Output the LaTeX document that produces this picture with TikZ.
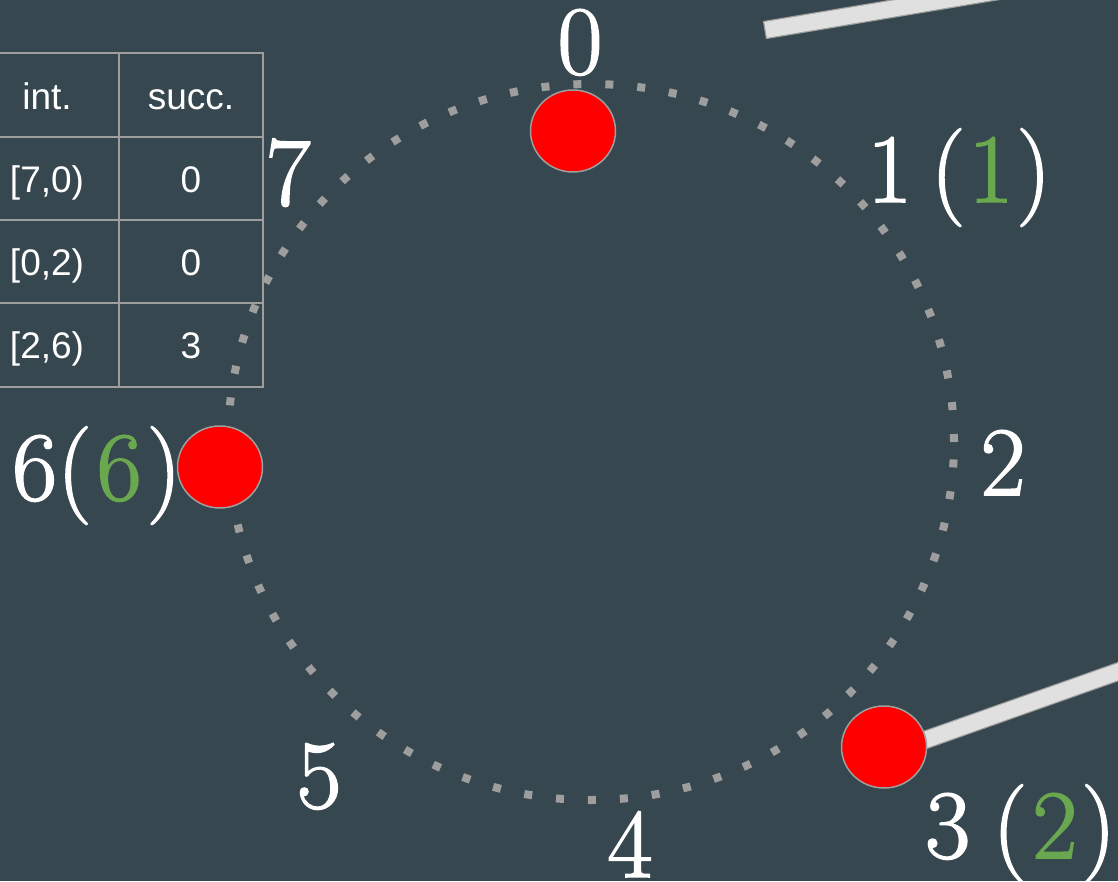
\documentclass[tikz,border=0pt]{standalone}
\usepackage{fontspec}
\setsansfont{Liberation Sans}
\newfontfamily\bigfont[FakeBold=1.6]{Latin Modern Roman}
\usetikzlibrary{shapes.geometric}
\definecolor{bg}{HTML}{37474F}
\definecolor{grn}{HTML}{6AA84F}
\definecolor{lgray}{HTML}{9E9E9E}
\definecolor{barfill}{HTML}{E0E0E0}
\begin{document}
\begin{tikzpicture}[x=1pt,y=-1pt,
  bigl/.style={text=white,inner sep=0pt,font=\bigfont\fontsize{98}{98}\selectfont},
  cell/.style={text=white,inner sep=0pt,font=\sffamily\fontsize{37}{37}\selectfont,anchor=base},
  redn/.style={ellipse,fill=red,draw=lgray,line width=1.5pt,minimum width=85pt,minimum height=82pt,inner sep=0pt},
  barline/.style={draw=lgray,line width=1.2pt,double=barfill,double distance=16pt},
  barend/.style={draw=lgray,line width=1.2pt},
  gridline/.style={draw=lgray,line width=2pt},
  ring/.style={draw=lgray,line width=8pt,dash pattern=on 8pt off 24pt}]
\fill[bg] (0,0) rectangle (1118,881);
\useasboundingbox (0,0) rectangle (1118,881);
\clip (0,0) rectangle (1118,881);

% table
\draw[gridline] (-30,53) -- (263,53) -- (263,387) -- (-30,387);
\draw[gridline] (-30,137) -- (263,137);
\draw[gridline] (-30,220) -- (263,220);
\draw[gridline] (-30,303) -- (263,303);
\draw[gridline] (119,53) -- (119,387);
\node[cell] (h1) at (47,109) {int.};
\node[cell] (h2) at (191,109) {succ.};
\node[cell] (a1) at (47,192) {[7,0)};
\node[cell] (b1) at (191,192) {0};
\node[cell] (a2) at (47,275) {[0,2)};
\node[cell] (b2) at (191,275) {0};
\node[cell] (a3) at (47,358) {[2,6)};
\node[cell] (b3) at (191,358) {3};

% ring
\draw[ring] (591,442) ellipse [x radius=363pt, y radius=358pt];

% bars
\coordinate (t0) at (765,30);
\coordinate (t1) at (1160,-36);
\draw[barline] (t0) -- (t1);
\coordinate (t0a) at (763.5,21.1);
\coordinate (t0b) at (766.5,38.9);
\draw[barend] (t0a) -- (t0b);
\coordinate (c3) at (895,750.6);
\coordinate (f3) at (1160,656.8);
\draw[barline] (c3) -- (f3);

% labels
\node[bigl,anchor=base] (l0) at (580,74) {0};
\node[bigl,anchor=base] (l7) at (288,205) {7};
\node[bigl,anchor=base west] (l1) at (867,202) {1\hspace{0.19em}(\hspace{0.03em}\textcolor{grn}{1}\hspace{0.03em})};
\node[bigl,anchor=base] (l2) at (1003,495) {2};
\node[bigl,anchor=base west] (l3) at (925,858) {3\hspace{0.23em}(\hspace{0.05em}\textcolor{grn}{2}\hspace{0.04em})};
\node[bigl,anchor=base] (l4) at (630,877) {4};
\node[bigl,anchor=base] (l5) at (319,808) {5};
\node[bigl,anchor=base west] (l6) at (12,500) {6(\hspace{0.05em}\textcolor{grn}{6}\hspace{0.05em})};

% red nodes
\node[redn] (n0) at (573,131) {};
\node[redn] (n3) at (884,747) {};
\node[redn] (n6) at (220,467) {};
\end{tikzpicture}
\end{document}
